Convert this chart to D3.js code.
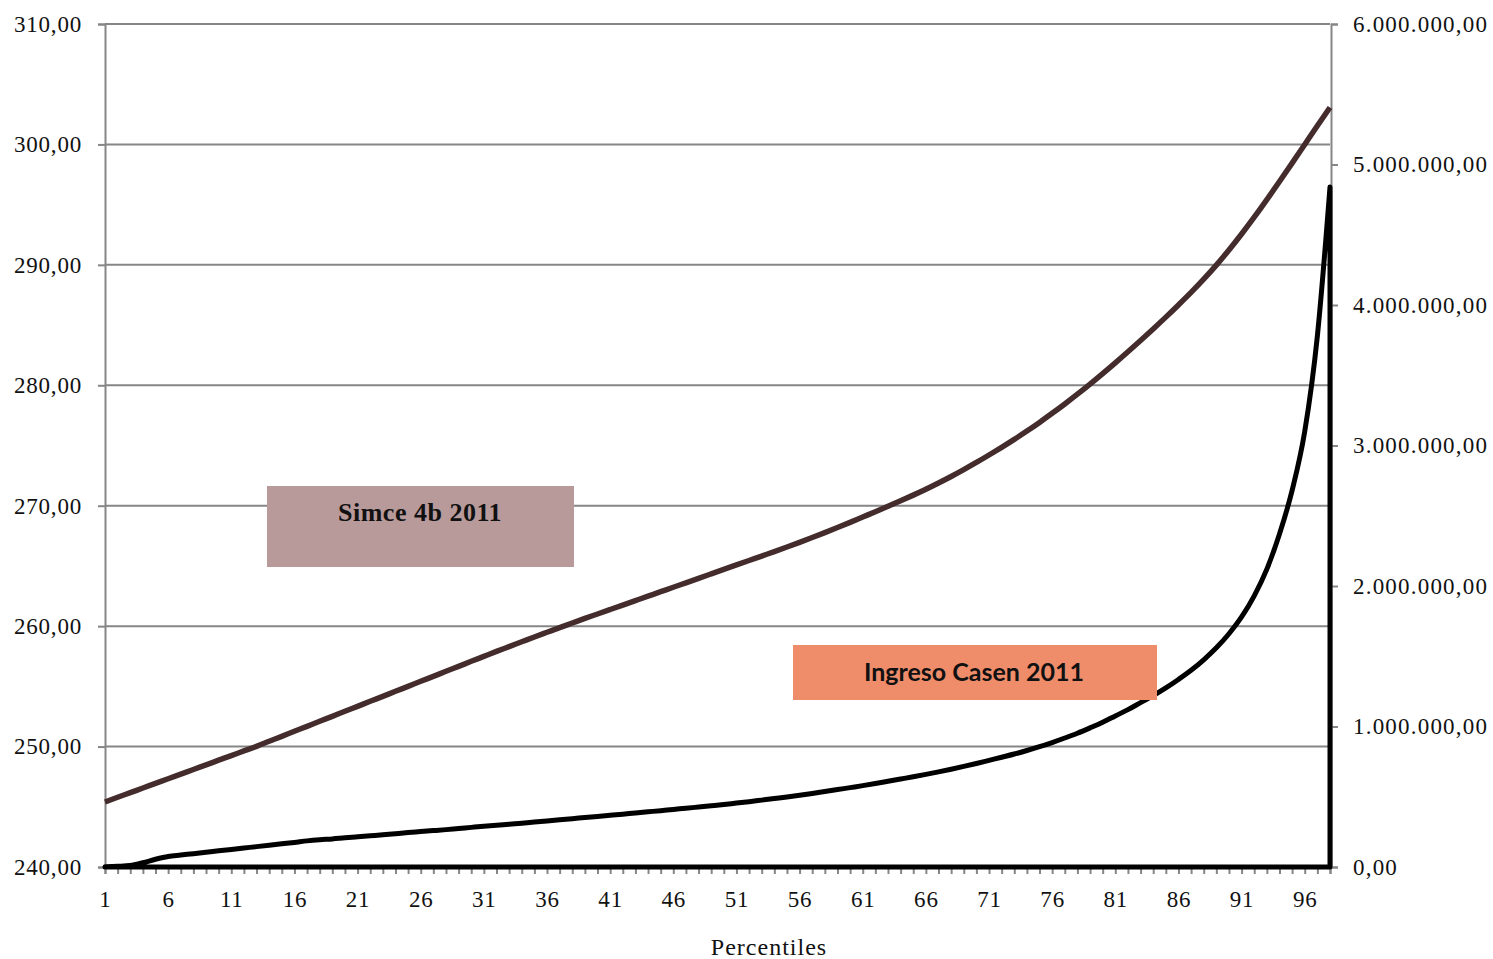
<!DOCTYPE html>
<html>
<head>
<meta charset="utf-8">
<script src="https://cdn.jsdelivr.net/npm/d3@7"></script>
<style>
    body { margin: 0; background: #fff; }
    text { font-family: "Liberation Serif", serif; }
</style>
</head>
<body>
<script>
const width = 1493,
        height = 959

// percentiles 1..98
const percentiles = d3.range(1, 99)

// Simce 4b 2011 (left axis)
const simce = [
    245.40, 245.79, 246.17, 246.56, 246.94, 247.33, 247.71, 248.10, 248.48, 248.87,
    249.25, 249.64, 250.02, 250.44, 250.85, 251.27, 251.68, 252.10, 252.51, 252.93,
    253.34, 253.76, 254.17, 254.59, 255.00, 255.42, 255.83, 256.25, 256.66, 257.08,
    257.49, 257.90, 258.30, 258.70, 259.10, 259.49, 259.88, 260.26, 260.64, 261.01,
    261.38, 261.75, 262.12, 262.49, 262.86, 263.23, 263.60, 263.97, 264.34, 264.71,
    265.08, 265.45, 265.82, 266.19, 266.57, 266.96, 267.36, 267.77, 268.19, 268.62,
    269.06, 269.50, 269.95, 270.41, 270.88, 271.37, 271.89, 272.43, 273.00, 273.59,
    274.21, 274.85, 275.51, 276.20, 276.92, 277.67, 278.45, 279.26, 280.10, 280.97,
    281.86, 282.78, 283.72, 284.68, 285.66, 286.67, 287.71, 288.81, 289.98, 291.23,
    292.56, 293.96, 295.42, 296.92, 298.45, 300.00, 301.55, 303.07
]

// Ingreso Casen 2011 (right axis)
const ingreso = [
    2000, 5000, 10000, 30000, 55000, 75000, 85000, 95000, 105000, 115000,
    125000, 135000, 145000, 155000, 165000, 175000, 186000, 194000, 200000, 208000,
    215000, 222000, 229000, 237000, 245000, 252000, 259000, 266000, 274000, 282000,
    290000, 297000, 305000, 312000, 320000, 328000, 336000, 344000, 352000, 360000,
    368000, 376000, 385000, 393000, 401000, 410000, 418000, 427000, 436000, 445000,
    455000, 465000, 476000, 487000, 498000, 510000, 523000, 537000, 551000, 565000,
    579000, 594000, 610000, 626000, 642000, 659000, 677000, 696000, 716000, 737000,
    759000, 781000, 804000, 829000, 856000, 886000, 918000, 952000, 990000, 1030000,
    1075000, 1120000, 1170000, 1220000, 1275000, 1335000, 1400000, 1475000, 1560000, 1660000,
    1780000, 1930000, 2120000, 2370000, 2680000, 3100000, 3780000, 4840000
]

const leftTicks = d3.range(240, 311, 10)
const rightTicks = d3.range(0, 6000001, 1000000)
const labelEvery = 5

const margin = {left: 105, right: 1330, top: 24, bottom: 867}

const es = d3.formatLocale({decimal: ',', thousands: '.', grouping: [3], currency: ['', '']})
const fmt = es.format(',.2f')

const svg = d3.select('body').append('svg')
    .attr('width', width)
    .attr('height', height)

const x = d3.scalePoint()
    .domain(percentiles)
    .range([margin.left, margin.right])

const yLeft = d3.scaleLinear()
    .domain([240, 310])
    .range([margin.bottom, margin.top])

const yRight = d3.scaleLinear()
    .domain([0, 6000000])
    .range([margin.bottom, margin.top])

const gray = '#868686'

// gridlines
svg.append('g')
    .selectAll('line')
    .data(leftTicks)
    .enter()
    .append('line')
        .attr('x1', margin.left)
        .attr('x2', margin.right)
        .attr('y1', d => yLeft(d))
        .attr('y2', d => yLeft(d))
        .style('stroke', gray)
        .style('stroke-width', 2)

// left axis
const gLeft = svg.append('g')
    .attr('transform', `translate(${margin.left},0)`)
    .call(d3.axisLeft(yLeft).tickValues(leftTicks).tickFormat(fmt).tickSizeOuter(0).tickSize(7).tickPadding(16))
gLeft.selectAll('path, line').style('stroke', gray).style('stroke-width', 2)
gLeft.selectAll('text')
    .style('font-family', '"Liberation Serif", serif')
    .style('font-size', '23px')
    .style('letter-spacing', '0.8px')
    .style('fill', '#111')

// right axis
const gRight = svg.append('g')
    .attr('transform', `translate(${margin.right + 1},0)`)
    .call(d3.axisRight(yRight).tickValues(rightTicks).tickFormat(fmt).tickSizeOuter(0).tickSize(7).tickPadding(15))
gRight.selectAll('path, line').style('stroke', gray).style('stroke-width', 2)
gRight.selectAll('text')
    .style('font-family', '"Liberation Serif", serif')
    .style('font-size', '23px')
    .style('letter-spacing', '1.2px')
    .style('fill', '#111')

// bottom axis
const gBottom = svg.append('g')
    .attr('transform', `translate(0,${margin.bottom})`)
    .call(d3.axisBottom(x)
        .tickFormat((d, i) => i % labelEvery === 0 ? d : '')
        .tickSizeOuter(0).tickSize(7).tickPadding(17))
gBottom.selectAll('path, line').style('stroke', gray).style('stroke-width', 2)
gBottom.selectAll('text')
    .style('font-family', '"Liberation Serif", serif')
    .style('font-size', '23px')
    .style('letter-spacing', '0.8px')
    .style('fill', '#111')

svg.append('text')
    .attr('x', 769)
    .attr('y', 955)
    .attr('text-anchor', 'middle')
    .style('font-size', '24px')
    .style('letter-spacing', '1px')
    .style('fill', '#111')
    .text('Percentiles')

// Ingreso drawn as an area outline (no fill)
const area = d3.area()
    .x((d, i) => x(percentiles[i]))
    .y0(yRight(0))
    .y1(d => yRight(d))
    .curve(d3.curveMonotoneX)

svg.append('path')
    .datum(ingreso)
    .attr('d', area)
    .style('fill', 'none')
    .style('stroke', '#000')
    .style('stroke-width', 5)
    .style('stroke-linejoin', 'round')

// Simce line
const line = d3.line()
    .x((d, i) => x(percentiles[i]))
    .y(d => yLeft(d))
    .curve(d3.curveMonotoneX)

svg.append('path')
    .datum(simce)
    .attr('d', line)
    .style('fill', 'none')
    .style('stroke', '#442c2d')
    .style('stroke-width', 5.5)

// label boxes
svg.append('rect')
    .attr('x', 267).attr('y', 486)
    .attr('width', 307).attr('height', 81)
    .style('fill', '#b99a9a')
svg.append('text')
    .attr('x', 420).attr('y', 521)
    .attr('text-anchor', 'middle')
    .style('font-size', '26px')
    .style('letter-spacing', '0.5px')
    .style('font-weight', 'bold')
    .style('fill', '#111')
    .text('Simce 4b 2011')

svg.append('rect')
    .attr('x', 793).attr('y', 645)
    .attr('width', 364).attr('height', 55)
    .style('fill', '#ef8c6a')
svg.append('text')
    .attr('x', 974).attr('y', 681)
    .attr('text-anchor', 'middle')
    .style('font-family', 'Lato, sans-serif')
    .style('font-size', '25px')
    .style('font-weight', 'bold')
    .style('fill', '#111')
    .text('Ingreso Casen 2011')
</script>
</body>
</html>
